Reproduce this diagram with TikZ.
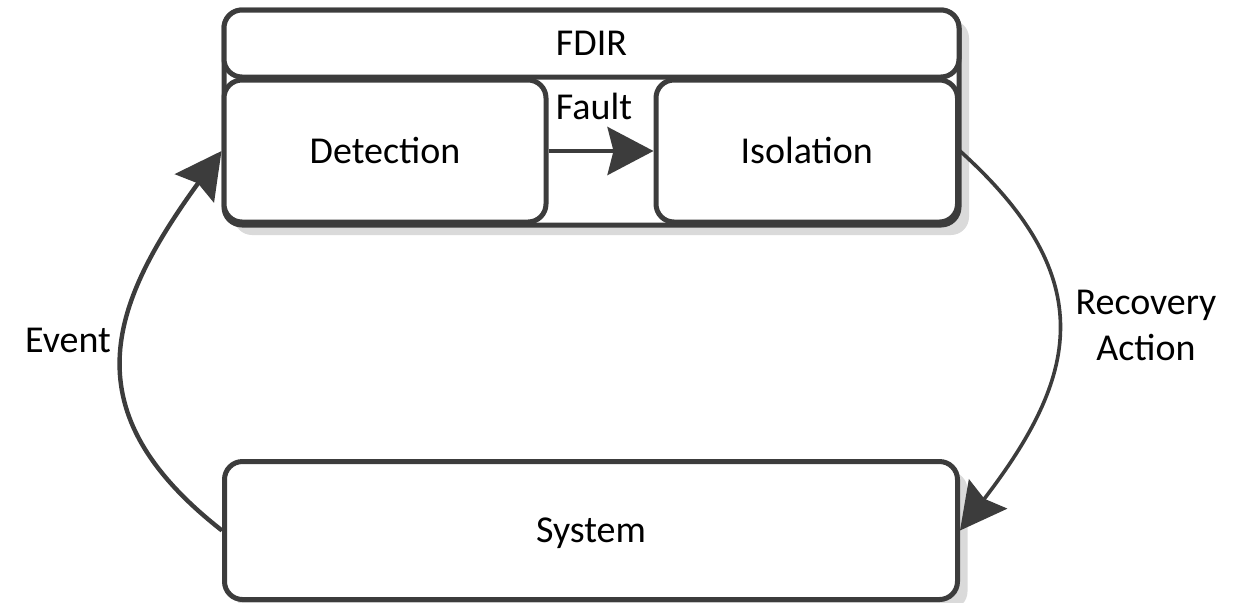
\documentclass[tikz,border=0pt]{standalone}
\usepackage{fontspec}
\setmainfont{Carlito}
\usetikzlibrary{arrows.meta,shadows}
\definecolor{edge}{HTML}{3C3C3C}
\definecolor{shade}{HTML}{DADADA}
\begin{document}
\begin{tikzpicture}[x=0.5pt,y=0.5pt,
  txt/.style={font=\fontsize{19}{23}\selectfont, text=black},
  box/.style={txt, draw=edge, line width=2.5pt, fill=white, rounded corners=9pt,
    inner sep=0pt, text height=12.2pt, text depth=0pt},
  shadowed/.style={drop shadow={shadow xshift=5pt, shadow yshift=-5pt, fill=shade, opacity=1}},
  lbl/.style={txt, inner sep=0pt, text height=12.2pt, text depth=0pt},
  conn/.style={draw=edge, line width=2pt, -{Stealth[length=23pt,width=24pt,inset=3pt]}}
]
\useasboundingbox (0,0) rectangle (1243,-602);

% FDIR container with its title bar
\node[box, shadowed, minimum width=367.5pt, minimum height=107.5pt] (fdir) at (591.5,-117.5) {};
\node[box, minimum width=367.5pt, minimum height=33.5pt] (head) at (591.5,-43.5) {FDIR};

% inner stages
\node[box, minimum width=161pt, minimum height=71pt] (det) at (385,-151) {Detection};
\node[box, minimum width=150.75pt, minimum height=71pt] (iso) at (806.75,-151) {Isolation};

% controlled system
\node[box, shadowed, minimum width=366.5pt, minimum height=69pt] (sys) at (591,-530.5) {System};

% connectors
\draw[conn] (det.east) -- (iso.west);
\node[lbl] (fault) at (594,-107) {Fault};

\draw[conn, line width=2.2pt] (sys.west) to[out=142,in=234,looseness=1.3] (det.west);
\node[lbl] (event) at (68,-340) {Event};

\draw[conn, line width=1.8pt] (iso.east) to[out=-42,in=52.5,looseness=1.3] (sys.east);
\node[txt, inner sep=0pt, align=center] (recov) at (1146,-325) {Recovery\\Action};
\end{tikzpicture}
\end{document}
